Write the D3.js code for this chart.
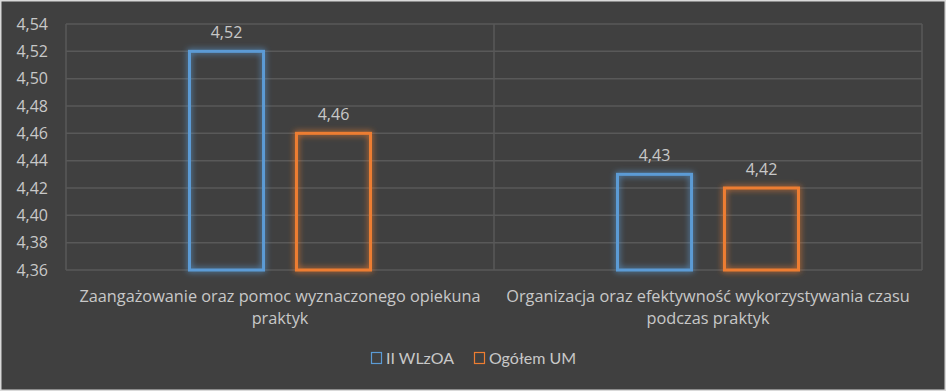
<!DOCTYPE html>
<html>
<head>
<meta charset="utf-8">
<script src="https://cdn.jsdelivr.net/npm/d3@7"></script>
<style>
  body { margin: 0; background: #404040; }
  svg { display: block; }
</style>
</head>
<body>
<div id="chart"></div>
<script>
// Data
var categories = [
    ['Zaangażowanie oraz pomoc wyznaczonego opiekuna', 'praktyk'],
    ['Organizacja oraz efektywność wykorzystywania czasu', 'podczas praktyk']
];
var seriesNames = ['II WLzOA', 'Ogółem UM'];
var seriesWLzOA = [4.52, 4.43];
var seriesUM = [4.46, 4.42];
var yTicks = [4.36, 4.38, 4.40, 4.42, 4.44, 4.46, 4.48, 4.50, 4.52, 4.54];

var colors = ['#5b9bd5', '#ed7d31'];

var svgWidth = 946;
var svgHeight = 391;

var margin = { top: 24, right: 24, bottom: 121, left: 66 };
var chartWidth = svgWidth - margin.left - margin.right;
var chartHeight = svgHeight - margin.top - margin.bottom;

var svg = d3.select('#chart')
    .append('svg')
    .attr('width', svgWidth)
    .attr('height', svgHeight);

// background and frame
svg.append('rect')
    .attr('x', 0.5).attr('y', 0.5)
    .attr('width', svgWidth - 1).attr('height', svgHeight - 1)
    .attr('fill', '#404040')
    .attr('stroke', '#d9d9d9')
    .attr('stroke-width', 2);

// glow filters
var defs = svg.append('defs');
colors.forEach(function(c, i) {
    var f = defs.append('filter')
        .attr('id', 'glow' + i)
        .attr('x', '-20%').attr('y', '-20%')
        .attr('width', '140%').attr('height', '140%');
    f.append('feGaussianBlur')
        .attr('in', 'SourceGraphic')
        .attr('stdDeviation', 3)
        .attr('result', 'blur');
    var m = f.append('feMerge');
    m.append('feMergeNode').attr('in', 'blur');
    m.append('feMergeNode').attr('in', 'SourceGraphic');
});

var chartGroup = svg.append('g')
    .attr('transform', `translate(${margin.left}, ${margin.top})`);

// scales
var xScale = d3.scaleBand()
    .domain(d3.range(categories.length))
    .range([0, chartWidth]);

var xInner = d3.scaleBand()
    .domain(seriesNames)
    .range([xScale.bandwidth() / 2 - 92, xScale.bandwidth() / 2 + 92])
    .paddingInner(0.28);

var yScale = d3.scaleLinear()
    .domain([4.36, 4.54])
    .range([chartHeight, 0]);

var fmt = function(v) { return d3.format('.2f')(v).replace('.', ','); };

// horizontal gridlines
chartGroup.append('g')
    .selectAll('line')
    .data(yTicks)
    .enter()
    .append('line')
    .attr('x1', 0)
    .attr('x2', chartWidth)
    .attr('y1', d => yScale(d))
    .attr('y2', d => yScale(d))
    .attr('stroke', '#595959')
    .attr('stroke-width', 1.5);

// vertical category separators
chartGroup.append('g')
    .selectAll('line')
    .data(d3.range(categories.length + 1))
    .enter()
    .append('line')
    .attr('x1', d => d * xScale.step())
    .attr('x2', d => d * xScale.step())
    .attr('y1', 0)
    .attr('y2', chartHeight)
    .attr('stroke', '#595959')
    .attr('stroke-width', 1.5);

// y axis
var yAxis = d3.axisLeft(yScale)
    .tickValues(yTicks)
    .tickFormat(fmt)
    .tickSize(0)
    .tickPadding(18);

var yAxisG = chartGroup.append('g').call(yAxis);
yAxisG.select('.domain').remove();
yAxisG.selectAll('text')
    .attr('font-family', 'Open Sans, sans-serif')
    .attr('font-size', '16px')
    .attr('fill', '#c8c8c8');

// bars
var seriesData = [seriesWLzOA, seriesUM];
seriesData.forEach(function(values, si) {
    var g = chartGroup.append('g');
    g.selectAll('rect')
        .data(values)
        .enter()
        .append('rect')
        .attr('x', (d, i) => xScale(i) + xInner(seriesNames[si]) + 1.5)
        .attr('y', d => yScale(d))
        .attr('width', xInner.bandwidth() - 3)
        .attr('height', d => chartHeight - yScale(d))
        .attr('fill', 'none')
        .attr('stroke', colors[si])
        .attr('stroke-width', 3)
        .attr('filter', `url(#glow${si})`);

    g.selectAll('text')
        .data(values)
        .enter()
        .append('text')
        .attr('x', (d, i) => xScale(i) + xInner(seriesNames[si]) + xInner.bandwidth() / 2)
        .attr('y', d => yScale(d) - 13)
        .attr('text-anchor', 'middle')
        .attr('font-family', 'Open Sans, sans-serif')
        .attr('font-size', '16px')
        .attr('fill', '#c8c8c8')
        .text(d => fmt(d));
});

// category labels
var catG = chartGroup.append('g');
categories.forEach(function(lines, i) {
    var t = catG.append('text')
        .attr('x', xScale(i) + xScale.bandwidth() / 2)
        .attr('y', chartHeight + 32)
        .attr('text-anchor', 'middle')
        .attr('font-family', 'Open Sans, sans-serif')
        .attr('font-size', '16.3px')
        .attr('fill', '#c8c8c8');
    lines.forEach(function(line, j) {
        t.append('tspan')
            .attr('x', xScale(i) + xScale.bandwidth() / 2)
            .attr('dy', j === 0 ? 0 : 22)
            .text(line);
    });
});

// legend
var legendX = [371, 474];
var legend = svg.append('g');
seriesNames.forEach(function(name, i) {
    legend.append('rect')
        .attr('x', legendX[i] + 0.5)
        .attr('y', 352.5)
        .attr('width', 10)
        .attr('height', 11)
        .attr('fill', 'none')
        .attr('stroke', colors[i])
        .attr('stroke-width', 1.2);
    legend.append('text')
        .attr('x', legendX[i] + 15)
        .attr('y', 364)
        .attr('font-family', 'Lato, sans-serif')
        .attr('font-size', '16px')
        .attr('fill', '#c8c8c8')
        .text(name);
});
</script>
</body>
</html>
